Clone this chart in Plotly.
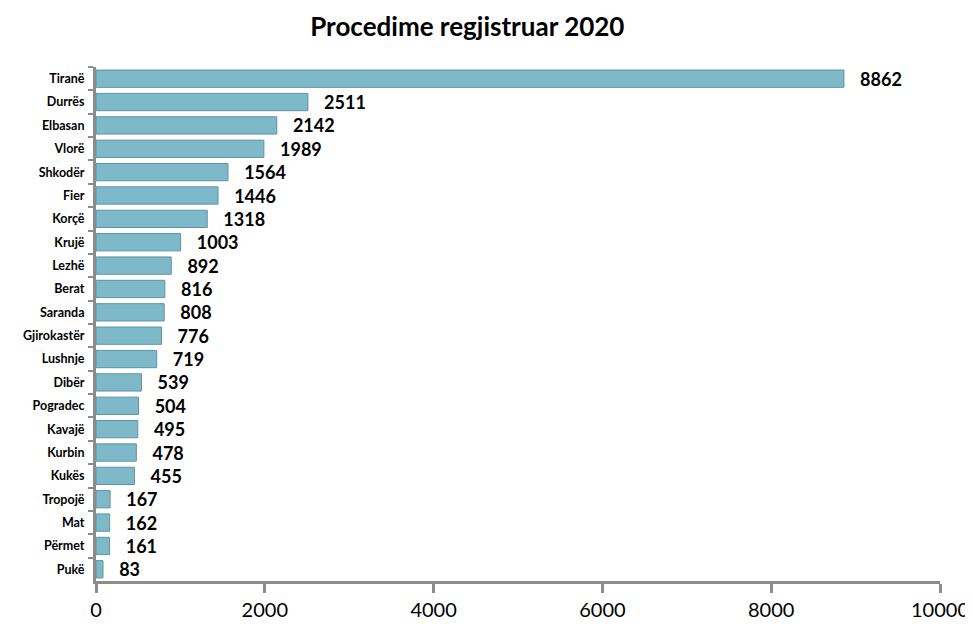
import plotly.graph_objects as go

categories = ["Tiranë", "Durrës", "Elbasan", "Vlorë", "Shkodër", "Fier", "Korçë", "Krujë",
              "Lezhë", "Berat", "Saranda", "Gjirokastër", "Lushnje", "Dibër", "Pogradec",
              "Kavajë", "Kurbin", "Kukës", "Tropojë", "Mat", "Përmet", "Pukë"]
values = [8862, 2511, 2142, 1989, 1564, 1446, 1318, 1003, 892, 816, 808, 776, 719, 539,
          504, 495, 478, 455, 167, 162, 161, 83]
x_ticks = [0, 2000, 4000, 6000, 8000, 10000]
x_tick_labels = ["0", "2000", "4000", "6000", "8000", "10000"]

fig = go.Figure(go.Bar(
    y=categories, x=values, orientation="h",
    marker=dict(color="#7EB9CA", line=dict(color="#5F93A2", width=1)),
    text=["\u00a0\u00a0\u00a0" + str(v) for v in values], textposition="outside",
    textfont=dict(family="Lato", size=18, color="black", weight="bold"),
    constraintext="none",
    cliponaxis=False,
))

fig.update_layout(
    width=965, height=619,
    margin=dict(l=88, r=33, t=59, b=46),
    plot_bgcolor="white", paper_bgcolor="white",
    title=dict(text="<b>Procedime regjistruar 2020</b>", x=0.476, xanchor="center", y=0.969,
               yanchor="middle", font=dict(family="Lato", size=26, color="black")),
    bargap=0.26,
    showlegend=False,
)
fig.update_xaxes(range=[0, 10000], tickvals=x_ticks, ticktext=x_tick_labels,
                 showgrid=False, zeroline=False, automargin=False,
                 showline=True, linecolor="#8C8C8C", linewidth=3,
                 ticks="outside", ticklen=9, tickwidth=3, tickcolor="#8C8C8C",
                 tickfont=dict(family="Lato", size=20, color="black"))
fig.update_yaxes(categoryorder="array", categoryarray=categories, autorange="reversed",
                 showgrid=False, showline=True, linecolor="#8C8C8C", linewidth=3,
                 ticks="outside", ticklen=5, tickwidth=2, tickcolor="#8C8C8C",
                 tickson="boundaries", automargin=False, ticklabelstandoff=6,
                 tickfont=dict(family="Lato", size=12.5, color="black", weight="bold"))

fig.write_html("out.html")
